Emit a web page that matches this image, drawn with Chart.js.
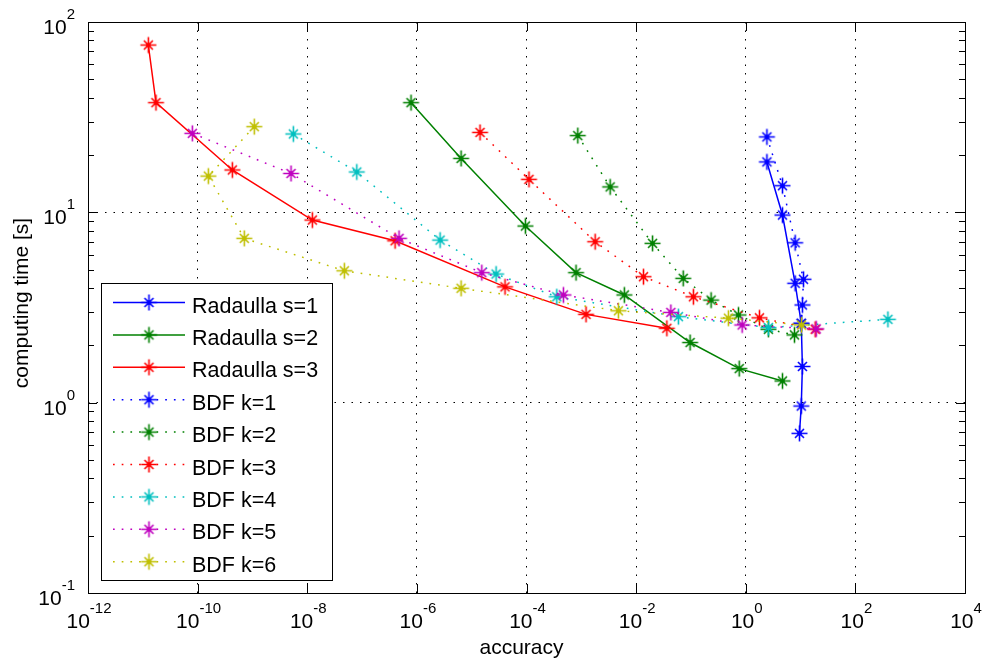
<!DOCTYPE html>
<html>
<head>
<meta charset="utf-8">
<script src="https://cdn.jsdelivr.net/npm/chart.js@4/dist/chart.umd.min.js"></script>
<style>
  html, body { margin: 0; padding: 0; background: #fff; }
  #wrap { width: 982px; height: 664px; position: relative; }
</style>
</head>
<body>
<div id="wrap"><canvas id="chart"></canvas></div>
<script>
// [accuracy, computing time] pairs
const radaullaS1 = [[2.43, 18.4], [4.68, 9.68], [7.96, 4.24], [10.3, 2.61], [10.8, 1.55], [10.3, 0.96], [9.55, 0.69]];
const radaullaS2 = [[7.83e-7, 37.7], [6.41e-6, 19.2], [9.55e-5, 8.47], [8.0e-4, 4.82], [6.1e-3, 3.68], [0.0966, 2.07], [0.76, 1.51], [4.68, 1.30]];
const radaullaS3 = [[1.26e-11, 75.7], [1.74e-11, 37.7], [4.3e-10, 16.7], [1.24e-8, 9.11], [4.0e-7, 7.09], [4.06e-5, 4.06], [1.22e-3, 2.91], [0.0363, 2.46]];
const bdfK1 = [[2.43, 24.9], [4.68, 13.8], [7.96, 6.92], [11.3, 4.45], [10.8, 3.26], [10.3, 2.61]];
const bdfK2 = [[8.63e-4, 25.3], [3.36e-3, 13.6], [0.0199, 6.87], [0.0723, 4.50], [0.233, 3.46], [0.736, 2.89], [2.59, 2.43], [7.74, 2.27]];
const bdfK3 = [[1.42e-5, 26.3], [1.11e-4, 14.9], [1.79e-3, 7.01], [0.0136, 4.59], [0.111, 3.60], [1.78, 2.79], [18.5, 2.43]];
const bdfK4 = [[5.57e-9, 25.8], [8.0e-8, 16.3], [2.65e-6, 7.15], [2.79e-5, 4.74], [3.57e-4, 3.60], [0.0591, 2.83], [2.59, 2.48], [392, 2.74]];
const bdfK5 = [[8.0e-11, 26.0], [5.06e-9, 16.0], [4.73e-7, 7.30], [1.53e-5, 4.82], [4.71e-4, 3.68], [0.043, 2.98], [0.859, 2.56], [19.3, 2.44]];
const bdfK6 = [[1.08e-9, 28.2], [1.57e-10, 15.5], [7.1e-10, 7.30], [4.75e-8, 4.93], [6.41e-6, 3.99], [4.75e-3, 3.04], [0.483, 2.78], [10.4, 2.56]];

const seriesLabels = ['Radaulla s=1', 'Radaulla s=2', 'Radaulla s=3', 'BDF k=1', 'BDF k=2', 'BDF k=3', 'BDF k=4', 'BDF k=5', 'BDF k=6'];
const seriesData = [radaullaS1, radaullaS2, radaullaS3, bdfK1, bdfK2, bdfK3, bdfK4, bdfK5, bdfK6];
const seriesColors = ['#0000ff', '#008000', '#ff0000', '#0000ff', '#008000', '#ff0000', '#00bfbf', '#bf00bf', '#bfbf00'];
const seriesDotted = [false, false, false, true, true, true, true, true, true];

const xTickExps = [-12, -10, -8, -6, -4, -2, 0, 2, 4];
const yTickExps = [-1, 0, 1, 2];

const FONT = '"Liberation Sans", Arial, sans-serif';
const DOT = [1.7, 7];

// matlab '*' marker: long + arms, short x arms, heavy centre
function makeStar(color) {
  const c = document.createElement('canvas');
  c.width = 19; c.height = 19;
  const g = c.getContext('2d');
  const m = 9.5;
  g.strokeStyle = color;
  g.fillStyle = color;
  g.lineWidth = 1.6;
  g.beginPath();
  g.moveTo(1.5, m); g.lineTo(17.5, m);
  g.moveTo(m, 1.5); g.lineTo(m, 17.5);
  g.moveTo(m - 4.5, m - 4.5); g.lineTo(m + 4.5, m + 4.5);
  g.moveTo(m - 4.5, m + 4.5); g.lineTo(m + 4.5, m - 4.5);
  g.stroke();
  g.beginPath();
  g.arc(m, m, 2.3, 0, Math.PI * 2);
  g.fill();
  return c;
}
const starImgs = seriesColors.map(makeStar);

// "10" with a raised exponent
function powLabel(ctx, exp, x, baseY, align) {
  const sup = String(exp);
  ctx.font = '21px ' + FONT;
  const bw = ctx.measureText('10').width;
  ctx.font = '15px ' + FONT;
  const sw = ctx.measureText(sup).width;
  const left = align === 'center' ? x - (bw + sw) / 2 : x - bw - sw;
  ctx.textAlign = 'left';
  ctx.textBaseline = 'alphabetic';
  ctx.font = '21px ' + FONT;
  ctx.fillText('10', left, baseY);
  ctx.font = '15px ' + FONT;
  ctx.fillText(sup, left + bw, baseY - 15);
}

const matlabFrame = {
  id: 'matlabFrame',
  afterDraw(chart) {
    const { ctx, chartArea: a } = chart;
    const xs = chart.scales.x, ys = chart.scales.y;
    ctx.save();
    ctx.strokeStyle = '#000';
    ctx.fillStyle = '#000';
    ctx.lineWidth = 1;
    ctx.setLineDash([]);
    ctx.beginPath();
    // x ticks (inside, top and bottom)
    xTickExps.forEach(e => {
      const px = Math.round(xs.getPixelForValue(Math.pow(10, e))) + 0.5;
      ctx.moveTo(px, a.bottom); ctx.lineTo(px, a.bottom - 9);
      ctx.moveTo(px, a.top); ctx.lineTo(px, a.top + 9);
    });
    // y major and minor ticks, both sides
    const eLast = yTickExps[yTickExps.length - 1];
    for (let e = yTickExps[0]; e <= eLast; e++) {
      for (let m = 1; m <= 9; m++) {
        if (e === eLast && m > 1) break;
        const py = Math.round(ys.getPixelForValue(m * Math.pow(10, e))) + 0.5;
        const len = m === 1 ? 9 : 6;
        ctx.moveTo(a.left, py); ctx.lineTo(a.left + len, py);
        ctx.moveTo(a.right, py); ctx.lineTo(a.right - len, py);
      }
    }
    ctx.stroke();
    ctx.strokeRect(Math.round(a.left) + 0.5, Math.round(a.top) + 0.5,
      Math.round(a.right - a.left), Math.round(a.bottom - a.top));

    // tick labels
    xTickExps.forEach(e => {
      powLabel(ctx, e, xs.getPixelForValue(Math.pow(10, e)) + 1, a.bottom + 35, 'center');
    });
    yTickExps.forEach(e => {
      powLabel(ctx, e, a.left - 13, ys.getPixelForValue(Math.pow(10, e)) + 12, 'right');
    });

    // axis titles
    ctx.font = '21px ' + FONT;
    ctx.textAlign = 'center';
    ctx.textBaseline = 'alphabetic';
    ctx.fillText('accuracy', (a.left + a.right) / 2 - 5, 654);
    ctx.save();
    ctx.translate(28, 303);
    ctx.rotate(-Math.PI / 2);
    ctx.fillText('computing time [s]', 0, 0);
    ctx.restore();

    // legend box
    const lx = 101, ly = 283, lw = 231, lh = 297;
    ctx.fillStyle = '#fff';
    ctx.fillRect(lx, ly, lw, lh);
    ctx.strokeStyle = '#000';
    ctx.strokeRect(lx + 0.5, ly + 0.5, lw, lh);
    chart.data.datasets.forEach((ds, i) => {
      const cy = 302.5 + i * 32.4;
      ctx.strokeStyle = ds.borderColor;
      ctx.lineWidth = 1.5;
      ctx.setLineDash(seriesDotted[i] ? DOT : []);
      ctx.beginPath();
      ctx.moveTo(113, cy); ctx.lineTo(185, cy);
      ctx.stroke();
      ctx.setLineDash([]);
      ctx.drawImage(starImgs[i], 149 - 9.5, cy - 9.5);
      ctx.fillStyle = '#000';
      ctx.font = '21.5px ' + FONT;
      ctx.textAlign = 'left';
      ctx.fillText(ds.label, 192, cy + 10);
    });
    ctx.restore();
  }
};

const datasets = seriesData.map((pts, i) => ({
  label: seriesLabels[i],
  data: pts.map(([x, y]) => ({ x, y })),
  showLine: true,
  borderColor: seriesColors[i],
  backgroundColor: seriesColors[i],
  borderWidth: 1.5,
  borderDash: seriesDotted[i] ? DOT : [],
  pointStyle: starImgs[i],
  pointRadius: 7,
  tension: 0,
  fill: false,
  order: seriesData.length - i
}));

const gridOpts = { color: '#000', lineWidth: 1, drawTicks: false };

new Chart(document.getElementById('chart'), {
  type: 'scatter',
  data: { datasets },
  options: {
    responsive: true,
    maintainAspectRatio: false,
    animation: false,
    events: [],
    layout: { padding: { left: 88, right: 17, top: 22, bottom: 71 } },
    plugins: { legend: { display: false }, tooltip: { enabled: false } },
    scales: {
      x: {
        type: 'logarithmic',
        min: 1e-12,
        max: 1e4,
        afterBuildTicks: s => { s.ticks = xTickExps.map(e => ({ value: Math.pow(10, e) })); },
        ticks: { display: false },
        grid: gridOpts,
        border: { display: false, dash: [1.5, 7] }
      },
      y: {
        type: 'logarithmic',
        min: 0.1,
        max: 100,
        afterBuildTicks: s => { s.ticks = yTickExps.map(e => ({ value: Math.pow(10, e) })); },
        ticks: { display: false },
        grid: gridOpts,
        border: { display: false, dash: [1.5, 7] }
      }
    }
  },
  plugins: [matlabFrame]
});
</script>
</body>
</html>
